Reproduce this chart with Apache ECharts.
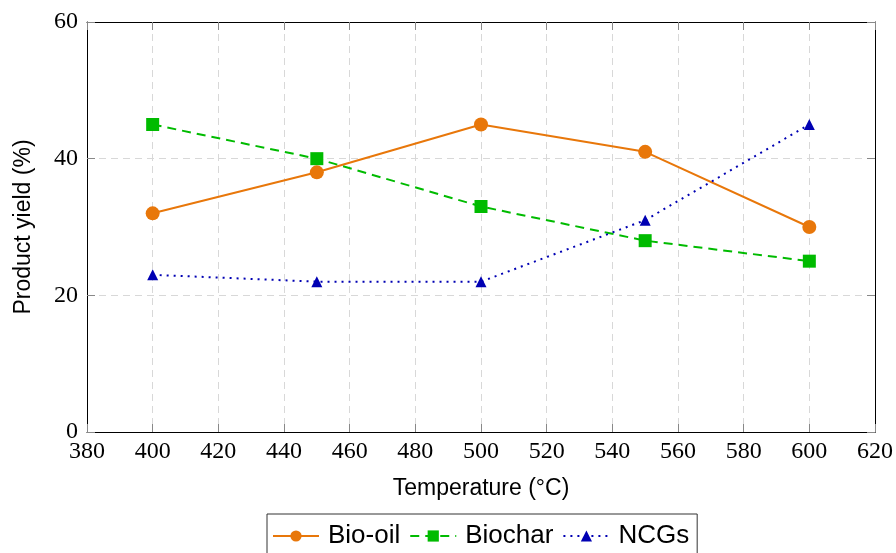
<!DOCTYPE html>
<html>
<head>
<meta charset="utf-8">
<script src="https://cdn.jsdelivr.net/npm/echarts@6/dist/echarts.min.js"></script>
<style>html,body{margin:0;padding:0;background:#fff}#c{width:896px;height:553px}</style>
</head>
<body>
<div id="c"></div>
<script>
const temperatures = [400, 450, 500, 550, 600];
const bioOil = [32, 38, 45, 41, 30];
const biochar = [45, 40, 33, 28, 25];
const ncgs = [23, 22, 22, 31, 45];
const xTicks = {min: 380, max: 620, interval: 20};
const yTicks = {min: 0, max: 60, interval: 20};

const pair = (xs, ys) => xs.map((x, i) => [x, ys[i]]);
const serif = 'Liberation Serif';
const sans = 'Liberation Sans';
const tickStyle = {show: true, inside: true, length: 8, lineStyle: {color: '#888', width: 1}};
const gridLine = {show: true, lineStyle: {color: '#d8d8d8', type: [7, 5], width: 1}};
const frameLine = {show: true, onZero: false, lineStyle: {color: '#000', width: 1}};

const chart = echarts.init(document.getElementById('c'));
chart.setOption({
  animation: false,
  grid: {left: 87, top: 22, width: 788, height: 410, containLabel: false},
  xAxis: [{
    type: 'value', min: xTicks.min, max: xTicks.max, interval: xTicks.interval,
    name: 'Temperature (°C)', nameLocation: 'middle', nameGap: 45,
    nameTextStyle: {fontFamily: sans, fontSize: 23, color: '#000'},
    axisLine: frameLine,
    axisTick: tickStyle,
    axisLabel: {fontFamily: serif, fontSize: 24, color: '#000', margin: 8},
    splitLine: gridLine
  }, {
    type: 'value', position: 'top', min: xTicks.min, max: xTicks.max, interval: xTicks.interval,
    axisLine: frameLine,
    axisTick: tickStyle, axisLabel: {show: false}, splitLine: {show: false}
  }],
  yAxis: [{
    type: 'value', min: yTicks.min, max: yTicks.max, interval: yTicks.interval,
    name: 'Product yield (%)', nameLocation: 'middle', nameGap: 52,
    nameTextStyle: {fontFamily: sans, fontSize: 23, color: '#000'},
    axisLine: frameLine,
    axisTick: tickStyle,
    axisLabel: {fontFamily: serif, fontSize: 24, color: '#000', margin: 9},
    splitLine: gridLine
  }, {
    type: 'value', position: 'right', min: yTicks.min, max: yTicks.max, interval: yTicks.interval,
    axisLine: frameLine,
    axisTick: tickStyle, axisLabel: {show: false}, splitLine: {show: false}
  }],
  legend: {
    left: 267, top: 514,
    orient: 'horizontal',
    itemWidth: 46, itemHeight: 14, itemGap: 9,
    padding: [9, 8, 9, 5],
    borderColor: '#333', borderWidth: 1,
    textStyle: {fontFamily: sans, fontSize: 26, color: '#000', padding: [0, 0, 0, 4]},
    data: ['Bio-oil', 'Biochar', 'NCGs']
  },
  series: [{
    name: 'Bio-oil', type: 'line', data: pair(temperatures, bioOil),
    symbol: 'circle', symbolSize: 14,
    lineStyle: {color: '#E8770A', width: 2},
    itemStyle: {color: '#E8770A'}
  }, {
    name: 'Biochar', type: 'line', data: pair(temperatures, biochar),
    symbol: 'rect', symbolSize: 13,
    lineStyle: {color: '#00BB00', width: 2, type: [9, 6]},
    itemStyle: {color: '#00BB00'}
  }, {
    name: 'NCGs', type: 'line', data: pair(temperatures, ncgs),
    symbol: 'triangle', symbolSize: 11,
    lineStyle: {color: '#0000B3', width: 2, type: [2, 5]},
    itemStyle: {color: '#0000B3'}
  }]
});
</script>
</body>
</html>
